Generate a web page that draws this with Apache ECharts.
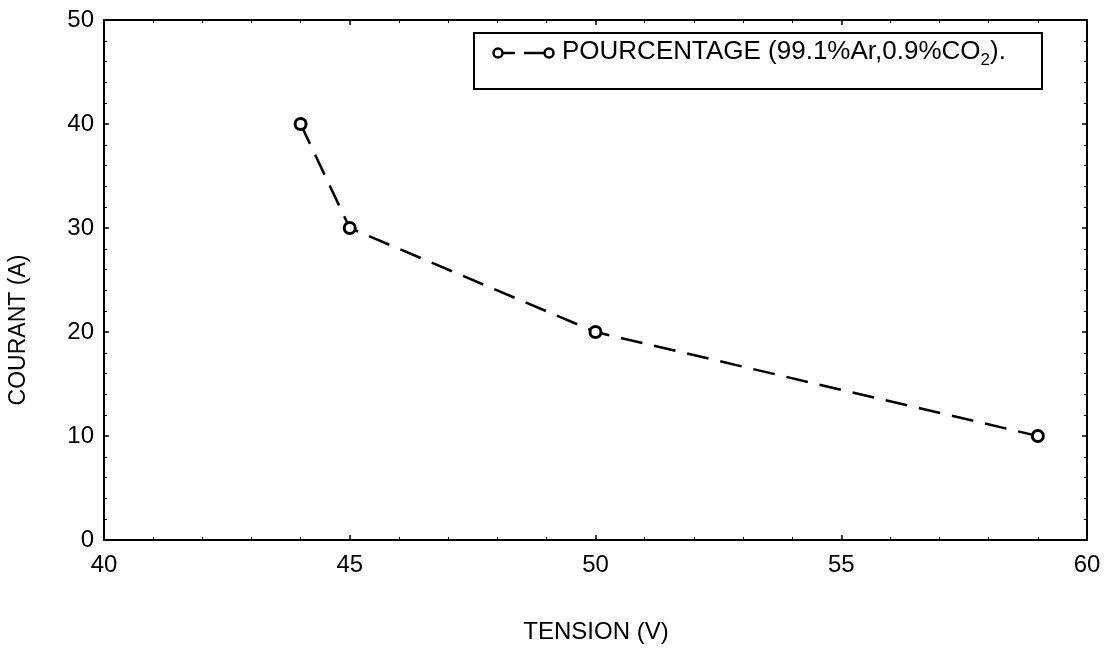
<!DOCTYPE html>
<html>
<head>
<meta charset="utf-8">
<script src="https://cdn.jsdelivr.net/npm/echarts@6/dist/echarts.min.js"></script>
<style>
html,body{margin:0;padding:0;background:#fff;}
#main{width:1107px;height:651px;}
</style>
</head>
<body>
<div id="main"></div>
<script>
const tension = [44, 45, 50, 59];
const courant = [40, 30, 20, 10];
const xTicks = [40, 45, 50, 55, 60];
const yTicks = [0, 10, 20, 30, 40, 50];
const seriesName = 'POURCENTAGE (99.1%Ar,0.9%CO2).';

const chart = echarts.init(document.getElementById('main'));
const FONT = '"Liberation Sans", Arial, sans-serif';
const pts = tension.map((t, i) => [t, courant[i]]);

const axisCommon = {
  axisLine: { show: true, onZero: false, lineStyle: { color: '#000', width: 2 } },
  axisTick: { show: true, inside: true, length: 5, lineStyle: { color: '#000', width: 1.5 } },
  minorTick: { show: true, splitNumber: 5, length: 3, lineStyle: { color: '#000', width: 1 } },
  splitLine: { show: false },
  minorSplitLine: { show: false }
};

chart.setOption({
  animation: false,
  backgroundColor: '#fff',
  grid: { left: 104, right: 20, top: 20, bottom: 111, containLabel: false },
  xAxis: [
    Object.assign({
      type: 'value', min: xTicks[0], max: xTicks[xTicks.length - 1], interval: 5, position: 'bottom',
      axisLabel: { color: '#000', fontFamily: FONT, fontSize: 24, margin: 13 }
    }, axisCommon),
    Object.assign({
      type: 'value', min: xTicks[0], max: xTicks[xTicks.length - 1], interval: 5, position: 'top',
      axisLabel: { show: false }
    }, axisCommon)
  ],
  yAxis: [
    Object.assign({
      type: 'value', min: yTicks[0], max: yTicks[yTicks.length - 1], interval: 10, position: 'left',
      axisLabel: { color: '#000', fontFamily: FONT, fontSize: 24, margin: 10 }
    }, axisCommon),
    Object.assign({
      type: 'value', min: yTicks[0], max: yTicks[yTicks.length - 1], interval: 10, position: 'right',
      axisLabel: { show: false }
    }, axisCommon)
  ],
  series: [{
    name: seriesName,
    type: 'line',
    data: pts,
    symbol: 'circle',
    showSymbol: true,
    symbolSize: 11,
    itemStyle: { color: '#fff', borderColor: '#000', borderWidth: 3 },
    lineStyle: { color: '#000', width: 2.5, type: [22, 12] },
    z: 3
  }],
  graphic: [
    { type: 'text', x: 596, y: 632, style: { text: 'TENSION (V)', fill: '#000', font: '24px ' + FONT, textAlign: 'center', textVerticalAlign: 'middle' } },
    { type: 'text', rotation: Math.PI / 2, x: 19, y: 330, style: { text: 'COURANT (A)', fill: '#000', font: '23px ' + FONT, textAlign: 'center', textVerticalAlign: 'middle' } },
    { type: 'rect', shape: { x: 474, y: 33, width: 568, height: 56 }, style: { fill: '#fff', stroke: '#000', lineWidth: 2 } },
    { type: 'line', shape: { x1: 503, y1: 53, x2: 515, y2: 53 }, style: { stroke: '#000', lineWidth: 2.5 } },
    { type: 'line', shape: { x1: 524, y1: 53, x2: 544, y2: 53 }, style: { stroke: '#000', lineWidth: 2.5 } },
    { type: 'circle', shape: { cx: 498, cy: 53, r: 4.5 }, style: { fill: '#fff', stroke: '#000', lineWidth: 2.5 } },
    { type: 'circle', shape: { cx: 549, cy: 53, r: 4.5 }, style: { fill: '#fff', stroke: '#000', lineWidth: 2.5 } },
    { type: 'text', x: 562, y: 52, style: {
        text: 'POURCENTAGE (99.1%Ar,0.9%CO{sub|2}).',
        fill: '#000', font: '26px ' + FONT, textVerticalAlign: 'middle',
        rich: { sub: { fontSize: 17, fontFamily: FONT, fill: '#000', padding: [17, 0, 0, 0] } }
    } }
  ]
});
</script>
</body>
</html>
